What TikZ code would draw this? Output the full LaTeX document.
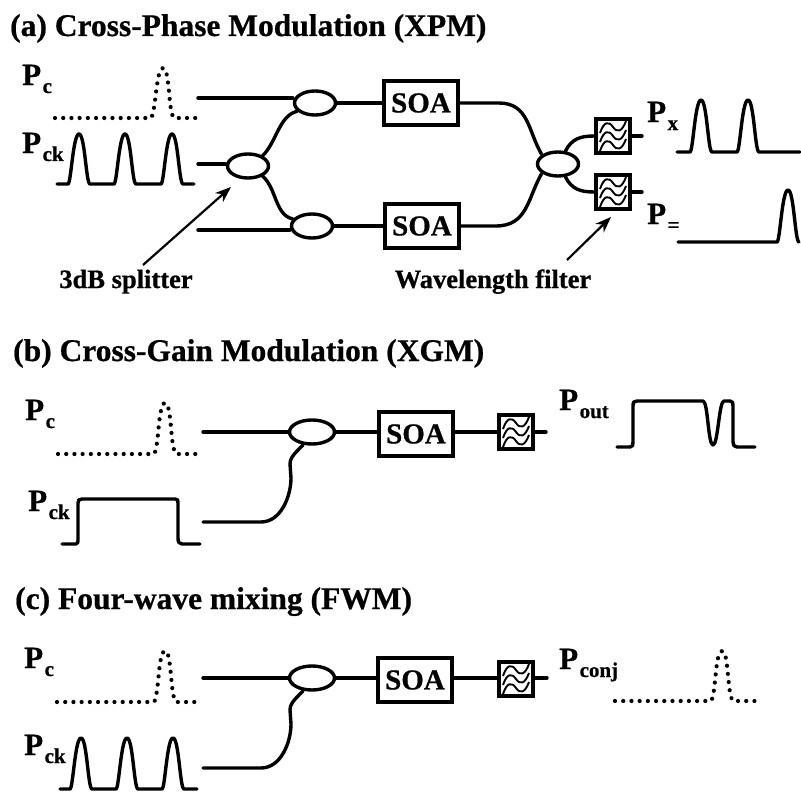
\documentclass[tikz,border=0pt]{standalone}
\usepackage{fontspec}
\setmainfont[BoldFeatures={FakeBold=0.7}]{Liberation Serif}
\usetikzlibrary{shapes.geometric,arrows.meta}
\newcommand{\Plab}[1]{{\fontsize{31}{31}\selectfont P}\raisebox{-8pt}{\fontsize{21}{21}\selectfont\hspace{1.5pt}#1}}
\tikzset{
  x=1pt,y=-1pt,
  wire/.style={line width=3.4pt,line cap=round,line join=round},
  arrowline/.style={line width=2.2pt,-{Stealth[length=16pt,width=12pt]}},
  dotwave/.style={line width=4.2pt,line cap=round,dash pattern=on 0.01pt off 8.2pt},
  coupler/.style={ellipse,draw,line width=3.4pt,minimum width=41pt,minimum height=24pt,inner sep=0pt},
  soabox/.style={rectangle,draw,line width=3.6pt,minimum width=74pt,minimum height=44pt,inner sep=0pt,font=\bfseries\fontsize{29}{29}\selectfont},
  filterbox/.style={rectangle,draw,line width=3.8pt,minimum width=34pt,minimum height=34pt,inner sep=0pt,
    path picture={
      \begin{scope}[shift={(path picture bounding box.center)}]
      \foreach \d in {-9,0,9}{
        \draw[line width=1.9pt] (-13,\d+6) .. controls (-9,\d-6) and (-4,\d-6) .. (0,\d) .. controls (4,\d+6) and (9,\d+5) .. (13,\d-6);
      }
      \end{scope}}},
  heading/.style={anchor=base west,inner sep=0pt,font=\bfseries\fontsize{31.5}{31.5}\selectfont},
  caption/.style={anchor=base,inner sep=0pt,font=\bfseries\fontsize{26.5}{26.5}\selectfont},
  plabel/.style={anchor=base west,inner sep=0pt,font=\bfseries},
}
\begin{document}
\begin{tikzpicture}
\useasboundingbox (0,0) rectangle (801,792);
% ---------- (a)
\node[heading] (ta) at (10,36) {(a) Cross-Phase Modulation (XPM)};
\node[plabel] (a1) at (22,85) {\Plab{c}};
\node[plabel] (a2) at (22,153) {\Plab{ck}};
\node[plabel] (a3) at (647,122) {\Plab{x}};
\node[plabel] (a4) at (647,224) {\Plab{=}};
\draw[dotwave] (55,118) -- (151,118) .. controls (156,112) and (156,68) .. (163,68) .. controls (170,68) and (168,112) .. (174,118) -- (197,118);
\draw[wire] (57,184) -- (68,184) .. controls (71,184) and (73,134) .. (79,134) .. controls (85,134) and (86,184) .. (90,184) -- (114,184) .. controls (117,184) and (119,134) .. (125,134) .. controls (131,134) and (132,184) .. (136,184) -- (161,184) .. controls (164,184) and (166,134) .. (172,134) .. controls (178,134) and (179,184) .. (183,184) -- (194,184);
\draw[wire] (677,152) -- (690,152) .. controls (693,152) and (695,100) .. (701,100) .. controls (707,100) and (708,152) .. (712,152) -- (737,152) .. controls (740,152) and (742,100) .. (748,100) .. controls (754,100) and (755,152) .. (759,152) -- (800,152);
\draw[wire] (678,242) -- (777,242) .. controls (780,242) and (782,190) .. (788,190) .. controls (794,190) and (795,242) .. (799,242);
\node[coupler] (c1) at (315,103) {};
\node[coupler] (c2) at (248,166) {};
\node[coupler] (c3) at (312,226) {};
\node[coupler] (c4) at (558,164) {};
\node[soabox] (s1) at (421,103) {SOA};
\node[soabox] (s2) at (422,226) {SOA};
\node[filterbox] (f1) at (613,136) {};
\node[filterbox] (f2) at (613,192) {};
\coordinate (i1) at (198,98);
\coordinate (i2) at (198,164);
\coordinate (i3) at (198,230);
\coordinate (o1) at (642,136);
\coordinate (o2) at (642,192);
\draw[wire] (i1) -- (c1.west |- i1);
\draw[wire] (i2) -- (c2.west |- i2);
\draw[wire] (i3) -- (c3.west |- i3);
\draw[wire] (c1.east) -- (s1.west);
\draw[wire] (c3.east) -- (s2.west);
\draw[wire] (c2.35) .. controls +(14,-14) and +(-18,4) .. (c1.205);
\draw[wire] (c2.-35) .. controls +(14,12) and +(-18,-4) .. (c3.160);
\draw[wire] (s1.east) -- ++(39,0) .. controls +(30,0) and +(-14,-24) .. (c4.150);
\draw[wire] (s2.east) -- ++(35,0) .. controls +(32,0) and +(-14,24) .. (c4.210);
\draw[wire] (c4.60) .. controls +(6,-12) and +(-14,0) .. (f1.west);
\draw[wire] (c4.-60) .. controls +(6,12) and +(-14,0) .. (f2.west);
\draw[wire] (f1.east) -- (o1);
\draw[wire] (f2.east) -- (o2);
\node[caption] (l1) at (126,288) {3dB splitter};
\node[caption] (l2) at (493,288) {Wavelength filter};
\coordinate (l1t) at (143,265);
\coordinate (l1h) at (231,187);
\coordinate (l2t) at (567,260);
\coordinate (l2h) at (611,217);
\draw[arrowline] (l1t) -- (l1h);
\draw[arrowline] (l2t) -- (l2h);
% ---------- (b)
\node[heading] (tb) at (13,361) {(b) Cross-Gain Modulation (XGM)};
\node[plabel] (b1) at (25,420) {\Plab{c}};
\node[plabel] (b2) at (28,511) {\Plab{ck}};
\node[plabel] (b3) at (559,410) {\Plab{out}};
\draw[dotwave] (58,454) -- (154,454) .. controls (159,448) and (158,403) .. (165,403) .. controls (172,403) and (170,448) .. (176,454) -- (200,454);
\draw[wire] (62,544) -- (76,544) .. controls (78,544) and (78,542) .. (78,538) -- (78,503) .. controls (78,500) and (79,499) .. (82,499) -- (175,499) .. controls (178,499) and (178,500) .. (178,503) -- (178,538) .. controls (178,542) and (179,544) .. (182,544) -- (200,544);
\draw[wire] (617,447) -- (630,447) .. controls (633,447) and (633,445) .. (633,442) -- (633,406) .. controls (633,402) and (634,401) .. (637,401) -- (703,401) .. controls (708,401) and (708,445) .. (713,445) .. controls (718,445) and (719,401) .. (724,401) -- (730,401) .. controls (733,401) and (733,403) .. (733,406) -- (733,442) .. controls (733,445) and (734,447) .. (737,447) -- (755,447);
\node[coupler,minimum width=45pt] (c5) at (312,432) {};
\node[soabox] (s3) at (416,434) {SOA};
\node[filterbox] (f3) at (516,432) {};
\coordinate (i4) at (203,432);
\coordinate (i5) at (203,522);
\coordinate (o3) at (546,432);
\draw[wire] (i4) -- (c5.west);
\draw[wire] (c5.east) -- (s3.west |- c5.east);
\draw[wire] (s3.east |- c5.east) -- (f3.west);
\draw[wire] (f3.east) -- (o3);
\draw[wire] (i5) -- ++(58,0) .. controls +(20,0) and +(0,18) .. ++(30,-44) -- ++(-1,-14) .. controls +(0,-8) and +(-5,6) .. (c5.235);
% ---------- (c)
\node[heading] (tc) at (15,609) {(c) Four-wave mixing (FWM)};
\node[plabel] (d1) at (24,668) {\Plab{c}};
\node[plabel] (d2) at (24,755) {\Plab{ck}};
\node[plabel] (d3) at (559,669) {\Plab{conj}};
\draw[dotwave] (57,702) -- (154,702) .. controls (159,696) and (158,651) .. (165,651) .. controls (172,651) and (170,696) .. (176,702) -- (200,702);
\draw[dotwave] (615,701) -- (711,701) .. controls (716,695) and (715,651) .. (722,651) .. controls (729,651) and (727,695) .. (733,701) -- (756,701);
\draw[wire] (60,789) -- (70,789) .. controls (73,789) and (75,738) .. (81,738) .. controls (87,738) and (88,789) .. (92,789) -- (116,789) .. controls (119,789) and (121,738) .. (127,738) .. controls (133,738) and (134,789) .. (138,789) -- (162,789) .. controls (165,789) and (167,738) .. (173,738) .. controls (179,738) and (180,789) .. (184,789) -- (197,789);
\node[coupler,minimum width=45pt] (c6) at (312,678) {};
\node[soabox] (s4) at (415,680) {SOA};
\node[filterbox] (f4) at (516,679) {};
\coordinate (i6) at (203,678);
\coordinate (i7) at (203,768);
\coordinate (o4) at (547,678);
\draw[wire] (i6) -- (c6.west);
\draw[wire] (c6.east) -- (s4.west |- c6.east);
\draw[wire] (s4.east |- c6.east) -- (f4.west |- c6.east);
\draw[wire] (f4.east |- c6.east) -- (o4);
\draw[wire] (i7) -- ++(58,0) .. controls +(20,0) and +(0,18) .. ++(30,-44) -- ++(-1,-14) .. controls +(0,-8) and +(-5,6) .. (c6.235);
\end{tikzpicture}
\end{document}
